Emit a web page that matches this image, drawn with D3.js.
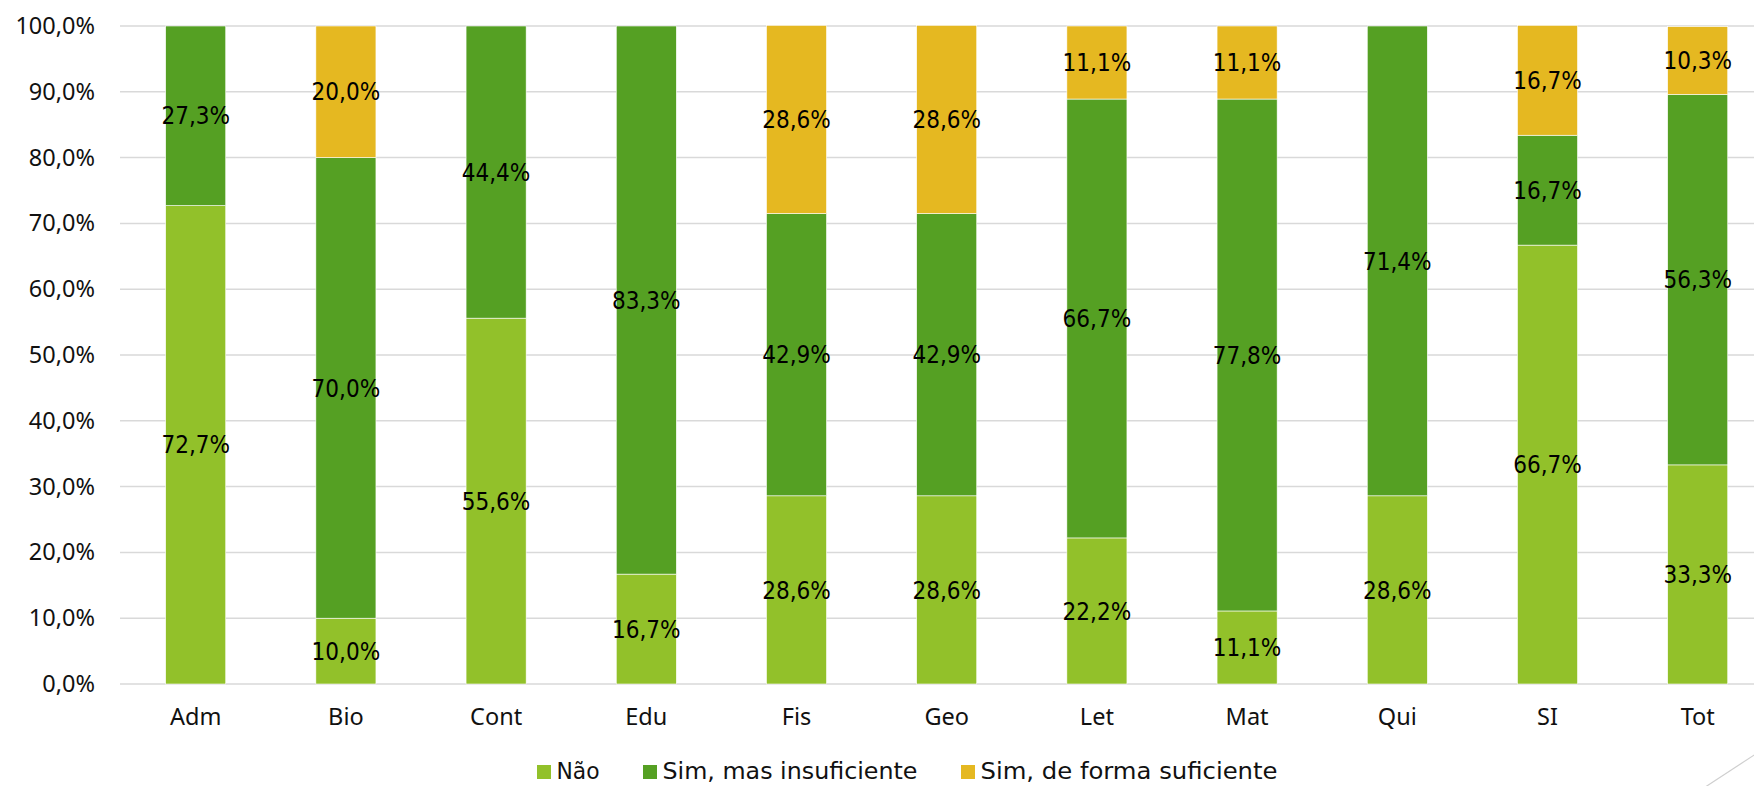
<!DOCTYPE html>
<html>
<head>
<meta charset="utf-8">
<script src="https://cdn.jsdelivr.net/npm/d3@7"></script>
<style>
  html, body { margin: 0; padding: 0; background: #fff; }
  svg { display: block; }
</style>
</head>
<body>
<svg id="chart" width="1754" height="786"></svg>
<script>
const categories = ["Adm", "Bio", "Cont", "Edu", "Fis", "Geo", "Let", "Mat", "Qui", "SI", "Tot"];
const seriesNames = ["Não", "Sim, mas insuficiente", "Sim, de forma suficiente"];
const nao          = [72.7, 10.0, 55.6, 16.7, 28.6, 28.6, 22.2, 11.1, 28.6, 66.7, 33.3];
const simInsuf     = [27.3, 70.0, 44.4, 83.3, 42.9, 42.9, 66.7, 77.8, 71.4, 16.7, 56.3];
const simSuf       = [0,    20.0, 0,    0,    28.6, 28.6, 11.1, 11.1, 0,    16.7, 10.3];
const yTicks = [0, 10, 20, 30, 40, 50, 60, 70, 80, 90, 100];
const colors = ["#92C12A", "#55A023", "#E5B821"];

const locale = d3.formatLocale({decimal: ",", thousands: ".", grouping: [3], currency: ["", ""]});
const fmt = v => locale.format(".1f")(v) + "%";

const svg = d3.select("#chart");
const left = 120.6, step = 150.2;
const x = d3.scaleBand().domain(categories)
  .range([left, left + step * categories.length])
  .paddingInner(0.6).paddingOuter(0.3);
const y = d3.scaleLinear().domain([0, 100]).range([684, 26]);

// gridlines
svg.append("g").selectAll("line").data(yTicks).join("line")
  .attr("x1", 120).attr("x2", 1780)
  .attr("y1", d => y(d)).attr("y2", d => y(d))
  .attr("stroke", "#d9d9d9").attr("stroke-width", 1.5);

// stacked data
const rows = categories.map((c, i) => ({cat: c, s0: nao[i], s1: simInsuf[i], s2: simSuf[i]}));
const stack = d3.stack().keys(["s0", "s1", "s2"]);
const layers = stack(rows);

const g = svg.append("g");
layers.forEach((layer, li) => {
  g.append("g").selectAll("rect").data(layer.filter(d => d[1] - d[0] > 0)).join("rect")
    .attr("x", d => x(d.data.cat))
    .attr("width", x.bandwidth())
    .attr("y", d => y(d[1]))
    .attr("height", d => y(d[0]) - y(d[1]))
    .attr("fill", colors[li])
    .attr("stroke", "#ffffff").attr("stroke-width", 0.6);
});

// data labels
layers.forEach((layer, li) => {
  g.append("g").selectAll("text").data(layer.filter(d => d[1] - d[0] > 0)).join("text")
    .attr("x", d => x(d.data.cat) + x.bandwidth() / 2)
    .attr("y", d => y((d[0] + d[1]) / 2))
    .attr("dy", "0.36em")
    .attr("text-anchor", "middle")
    .attr("font-family", "'DejaVu Sans Condensed', 'DejaVu Sans', sans-serif")
    .attr("font-stretch", "condensed")
    .attr("font-size", "24px")
    .attr("fill", "#000")
    .text(d => fmt(d[1] - d[0]));
});

// y axis
const yAxis = svg.append("g").attr("transform", "translate(120,0)")
  .call(d3.axisLeft(y).tickValues(yTicks).tickSize(0).tickPadding(25).tickFormat(d => fmt(d)));
yAxis.select(".domain").remove();
yAxis.selectAll("text").attr("font-family", "'Noto Sans', 'Open Sans', sans-serif")
  .attr("font-size", "23.5px").attr("fill", "#111");

// x axis
const xAxis = svg.append("g").attr("transform", "translate(0,684)")
  .call(d3.axisBottom(x).tickSize(0).tickPadding(24));
xAxis.select(".domain").remove();
xAxis.selectAll("text").attr("font-family", "'Noto Sans', 'Open Sans', sans-serif")
  .attr("font-size", "23.5px").attr("fill", "#111");

// legend
const legendX = [537, 643, 961];
const legendW = [43, 255, 297];
const lg = svg.append("g");
seriesNames.forEach((name, i) => {
  lg.append("rect").attr("x", legendX[i]).attr("y", 765).attr("width", 14).attr("height", 14)
    .attr("fill", colors[i]);
  lg.append("text").attr("x", legendX[i] + 19.5).attr("y", 779)
    .attr("font-family", "'DejaVu Sans Condensed', 'DejaVu Sans', sans-serif")
    .attr("font-stretch", "condensed")
    .attr("font-size", "23px").attr("fill", "#111")
    .attr("textLength", legendW[i]).attr("lengthAdjust", "spacingAndGlyphs")
    .text(name);
});

// decorative slide line
svg.append("line").attr("x1", 1690).attr("y1", 797).attr("x2", 1800).attr("y2", 725)
  .attr("stroke", "#cfcfcf").attr("stroke-width", 1.2);
</script>
</body>
</html>
